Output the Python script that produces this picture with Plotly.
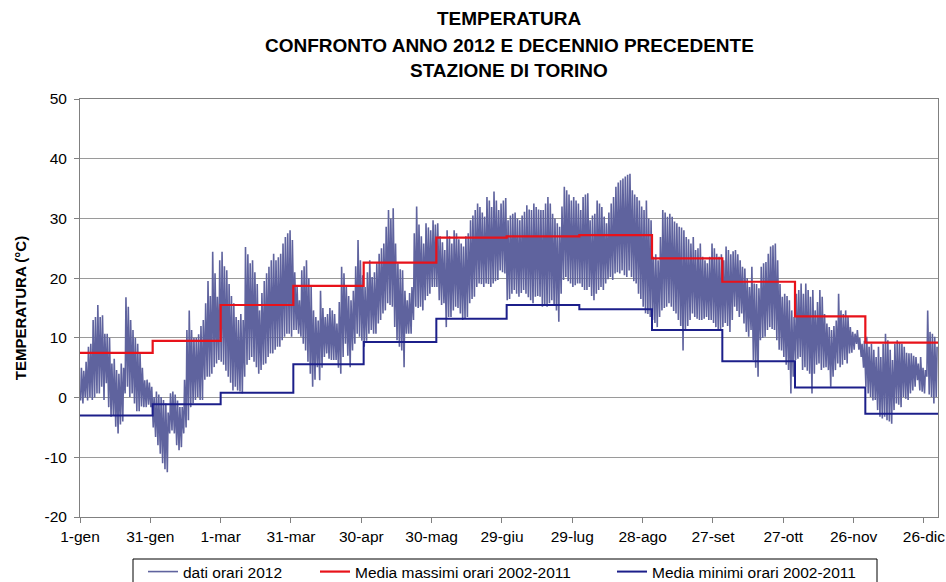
import plotly.graph_objects as go

# Daily extremes of the 2012 hourly record (°C), one list per month
jan_max = [5, 4.5, 6, 8.5, 9, 13, 13.5, 15.5, 13.5, 13.8, 10.7, 10.7, 10, 5.7, 6.5, 4.6,
           4, 5.7, 5, 16.8, 15.2, 13, 11.3, 10, 9, 7.4, 5, 2.9, 3, 2.5, 1.8]
jan_min = [-0.5, -1, 0, -0.5, 0, -0.4, 0, 0.7, 0.7, 1.8, -0.4, 2.4, -1.6, -3.2, -3, -4.9,
           -6, -4.5, -4, 0.7, 1.8, 0.1, 0.7, -1, -2.3, -2.3, -1.5, -1.6, -1.6, -1.2, -1.6]
feb_max = [0.1, 1, 0.5, 0.1, -0.4, -1, -2.5, 0.7, 1, 0.5, -0.5, -1.6, -1.6, 3, 11.3,
           14.6, 11.3, 10, 10, 10.6, 12, 13, 15.8, 19.5, 17, 24.4, 20.8, 16.9, 23]
feb_min = [-5, -6.6, -8, -9.4, -11, -12, -12.5, -6, -5.5, -6, -8, -8.8, -8.3, -6, -5,
           -3.8, -1.6, -1, -0.4, 0.1, -0.4, -0.4, 3, 3.5, 3.5, 4, 5.1, 5.7, 6.3]
mar_max = [24.4, 22, 21.3, 19, 17, 15.8, 13.5, 13, 14, 13, 25.2, 24, 22.5, 23, 21, 19,
           14.6, 17.5, 19.5, 20.8, 21.9, 23, 24.1, 23, 23.5, 24.1, 25.8, 26.9, 27.5, 28, 26.4]
mar_min = [6, 5.5, 4.5, 3.5, 2.5, 1.2, 1.8, 1.2, 1, 0.7, 3.5, 5.5, 6.3, 6.8, 6, 5.1,
           4, 4.6, 5.5, 5.7, 6.8, 7.4, 7.4, 8, 8.5, 8.5, 9.6, 10.2, 10.7, 10.7, 10.2]
apr_max = [21, 18.5, 16.3, 21.3, 22, 23, 20, 18.5, 14.6, 13.5, 12.9, 17.9, 15, 13.5, 14,
           15, 14.6, 14, 12.4, 16, 21.9, 20.8, 18.5, 17, 16.3, 17.9, 22, 26.4, 23, 20.5]
apr_min = [11.3, 11.3, 10.7, 10.2, 9, 7.9, 6, 4, 1.8, 3, 5.1, 2.9, 5, 6.8, 7.4,
           6.5, 6.3, 6.3, 6.3, 5, 4, 6.8, 9, 7, 5.1, 7.9, 9, 10.7, 10.2, 9.5]
may_max = [18.5, 21, 23, 20.2, 21, 22.5, 24.1, 25, 25.8, 28.6, 31.4, 30, 31.7, 25.8, 22.5,
           21.5, 21.3, 17.9, 16.3, 17.5, 18.5, 27.5, 32, 29, 27, 25.8, 29.2, 28.5, 28, 29.7, 29]
may_min = [8.5, 9.5, 10.7, 11.3, 10.7, 10.7, 12.4, 13, 14.1, 14.6, 15.8, 15.5, 15.2, 11.8, 9.6,
           8.5, 7.9, 5.1, 10.7, 10.7, 10.7, 13, 15.2, 15, 15.2, 14.6, 16.3, 17, 17.4, 18.5, 18.5]
jun_max = [29.2, 27, 26, 24.7, 28, 27, 25.8, 28, 27.5, 26.5, 25.8, 25.3, 27, 27.5, 29.7,
           30.5, 31.4, 32.5, 31.9, 31, 30.3, 33.6, 33, 31.9, 34.5, 33, 31.4, 32.5, 33, 33.4]
jun_min = [18.5, 16.3, 15.5, 15.8, 11.8, 13.5, 13.5, 14.6, 15.2, 15, 14.1, 13, 13.2, 13.5, 15.8,
           16.5, 16.9, 18.5, 19.1, 19, 18.5, 19.1, 19, 18.5, 19.1, 19.5, 19.7, 21.3, 21, 20.8]
jul_max = [29.7, 30.5, 30.8, 31, 30, 29.7, 30.5, 31.1, 32.2, 31.5, 31.4, 32.5, 31.9, 31.5, 31.4,
           31.4, 32.5, 33.6, 32.5, 30.8, 30, 29.2, 28.6, 32, 35.3, 34.7, 34, 33, 33.6, 33, 32.5]
jul_min = [16.3, 16.5, 17.4, 18, 17.4, 16.9, 17.5, 18, 17.4, 16.8, 16.3, 15.8, 16.9, 17, 16.9,
           15.2, 15.5, 15.2, 15.8, 16.3, 15.5, 14.6, 12.7, 17.4, 19.7, 20.2, 19.5, 19.1, 18.5, 18.8, 19.1]
aug_max = [31.4, 33.6, 34, 34.2, 29.7, 30.5, 30.8, 33, 32.5, 31.9, 30.3, 29.2, 31, 32.5, 33.6,
           35.3, 36, 36.4, 36.7, 37, 37.3, 37.5, 34.7, 34, 33.6, 33, 32, 31.4, 33, 30, 29.7]
aug_min = [19.1, 18.5, 18, 18, 18.5, 17, 16.3, 17.4, 18, 18.5, 18, 19.1, 19.8, 20.2, 19.7,
           20.8, 21, 20.8, 21.3, 20.5, 20.2, 21.3, 20.2, 19.5, 19.1, 17.4, 16.5, 15.2, 14.1, 14, 13.5]
sep_max = [23.6, 24, 23, 26.9, 31.4, 31, 30.3, 30.8, 30.3, 29.5, 29.2, 28.6, 28.5, 28, 26.9,
           26.5, 25.8, 26.9, 24.7, 25, 25.8, 23.6, 23, 22.5, 23.6, 25.8, 25, 24.1, 23.6, 24]
sep_min = [13, 12.5, 11.8, 13.5, 14.6, 15, 15.2, 15.8, 15.2, 14.5, 14.1, 13, 12, 7.9, 11.3,
           12, 13, 14.1, 13.5, 13.2, 13, 13, 13.2, 13.5, 13, 13, 12.5, 11.8, 11.3, 11.5]
oct_max = [23, 25.3, 24.7, 24, 24.5, 24.7, 24, 23, 21.9, 21.6, 20, 18.5, 21.9, 19.1, 19,
           18.3, 21.9, 22.5, 22.7, 24.1, 25.3, 25.5, 25.8, 23, 19, 16.9, 17.4, 17, 16.3, 14.6, 13.5]
oct_min = [11.8, 12.5, 12, 11, 13, 15.2, 14.5, 13.5, 14.1, 12.4, 11, 10.2, 11.3, 6.3, 5,
           3.5, 9.6, 10, 10.2, 11.3, 11.8, 11.5, 11.3, 9.6, 8, 7.9, 6.8, 5.5, 4.6, 0.7, 3.5]
nov_max = [17.4, 18, 19.1, 17.4, 19.1, 18, 16.9, 18, 14.6, 16, 18, 16.9, 14, 12.4, 11.8,
           11.3, 12, 12.9, 17.4, 14.6, 14, 14.6, 13.5, 11.8, 11, 10.7, 11.3, 10, 9, 9.5]
nov_min = [6.3, 6.5, 6.8, 4.6, 5.1, 4.5, 4, 0.7, 4, 5.5, 5.7, 4.6, 5, 5.1, 4.6,
           1.8, 3.5, 4.6, 5.7, 5.1, 5.5, 6.3, 5.7, 7.4, 7.5, 8, 9, 8, 6.8, 5]
dec_max = [10.2, 8.5, 9, 8, 6.8, 8.5, 6.8, 9, 10.7, 9.6, 8, 6.3, 9, 9.6, 9.2, 9,
           8.5, 7.5, 7.4, 7.4, 7, 6.8, 5.7, 6.8, 5, 4.6, 14.6, 11, 10.7, 10.2, 8.5]
dec_min = [1.8, 0.7, 0.1, -0.5, -0.4, -2.1, -3.2, -3.5, -3.2, -3.8, -4, -4.4, -2.1, -1, -1.2, -1.6,
           0.1, -0.2, -0.4, 0.7, 1.2, 1.8, 2.9, 1.2, 1, 0.7, 3.5, 0.5, 0.1, -1, 0.1]

# Monthly means of hourly maxima / minima, 2002-2011 (°C)
month_start = [0, 31, 60, 91, 121, 152, 182, 213, 244, 274, 305, 335]
mean_max = [7.5, 9.5, 15.5, 18.7, 22.6, 26.8, 27.0, 27.2, 23.3, 19.4, 13.6, 9.2]
mean_min = [-3.0, -1.1, 0.8, 5.6, 9.3, 13.2, 15.5, 14.8, 11.3, 6.1, 1.7, -2.7]
year_end = 366

# Axis ticks
tick_days = [0, 30, 60, 90, 120, 150, 180, 210, 240, 270, 300, 330, 360]
tick_text = ["1-gen", "31-gen", "1-mar", "31-mar", "30-apr", "30-mag", "29-giu",
             "29-lug", "28-ago", "27-set", "27-ott", "26-nov", "26-dic"]
temp_ticks = [-20, -10, 0, 10, 20, 30, 40, 50]
temp_labels = ["-20", "-10", "0", "10", "20", "30", "40", "50"]

day_max = (jan_max + feb_max + mar_max + apr_max + may_max + jun_max +
           jul_max + aug_max + sep_max + oct_max + nov_max + dec_max)
day_min = (jan_min + feb_min + mar_min + apr_min + may_min + jun_min +
           jul_min + aug_min + sep_min + oct_min + nov_min + dec_min)

# Daily cycle: minimum in the early morning, maximum in the afternoon
hx, hy = [], []
for d, (lo, hi) in enumerate(zip(day_min, day_max)):
    hx += [d + 0.25, d + 0.6]
    hy += [lo, hi]

step_x = month_start + [year_end]

W, H = 946, 582
L, R, T, B = 80, 938, 99, 517          # plot area in pixels
PW, PH = R - L, B - T


def px(x):
    return (x - L) / PW


def py(y):
    return (B - y) / PH


series_color = "#5f639e"
max_color = "#e8121a"
min_color = "#1c1f8a"
font_family = "Arial, Liberation Sans, sans-serif"

fig = go.Figure()
fig.add_trace(go.Scatter(
    x=hx, y=hy, mode="lines", name="dati orari 2012",
    line=dict(color=series_color, width=1.6), legend="legend",
))
fig.add_trace(go.Scatter(
    x=step_x, y=mean_max + [mean_max[-1]], mode="lines", line_shape="hv",
    name="Media massimi orari 2002-2011",
    line=dict(color=max_color, width=2.2), legend="legend2",
))
fig.add_trace(go.Scatter(
    x=step_x, y=mean_min + [mean_min[-1]], mode="lines", line_shape="hv",
    name="Media minimi orari 2002-2011",
    line=dict(color=min_color, width=2), legend="legend3",
))

legend_common = dict(
    orientation="h", xanchor="left", yanchor="top", y=py(555),
    borderwidth=0, bgcolor="rgba(0,0,0,0)",
    font=dict(size=15.5, family=font_family, color="#000000"), itemwidth=30,
)

fig.update_layout(
    width=W, height=H,
    margin=dict(l=L, r=W - R, t=T, b=H - B, autoexpand=False),
    paper_bgcolor="white", plot_bgcolor="white",
    font=dict(family=font_family, color="#000000", size=15),
    showlegend=True,
    legend=dict(x=px(143), **legend_common),
    legend2=dict(x=px(315), **legend_common),
    legend3=dict(x=px(612), **legend_common),
    xaxis=dict(
        range=[0, year_end], tickmode="array", tickvals=tick_days, ticktext=tick_text,
        showgrid=False, zeroline=False, showline=True, linecolor="#808080", linewidth=1,
        mirror=True, ticks="outside", ticklen=5, tickcolor="#808080",
        tickfont=dict(size=15.5),
    ),
    yaxis=dict(
        range=[-20, 50], tickmode="array", tickvals=temp_ticks, ticktext=temp_labels,
        showgrid=True, gridcolor="#9a9a9a", gridwidth=1, zeroline=False,
        showline=True, linecolor="#808080", linewidth=1, mirror=True,
        ticks="outside", ticklen=5, tickcolor="#808080", ticklabelstandoff=4,
        tickfont=dict(size=15.5),
        title=dict(text="<b>TEMPERATURA (°C)</b>", font=dict(size=15), standoff=14),
    ),
)

# Legend frame
fig.add_shape(
    type="rect", xref="paper", yref="paper",
    x0=px(133), x1=px(877), y0=py(559), y1=py(600),
    line=dict(color="#000000", width=1), fillcolor="rgba(0,0,0,0)", layer="above",
)

title_lines = ["TEMPERATURA", "CONFRONTO ANNO 2012 E DECENNIO PRECEDENTE", "STAZIONE DI TORINO"]
title_y_px = [18, 45, 70]
for text, ty in zip(title_lines, title_y_px):
    fig.add_annotation(
        text=f"<b>{text}</b>", xref="paper", yref="paper",
        x=px(509), y=py(ty), xanchor="center", yanchor="middle",
        showarrow=False, font=dict(size=19, family=font_family),
    )

fig.write_html("out.html")
